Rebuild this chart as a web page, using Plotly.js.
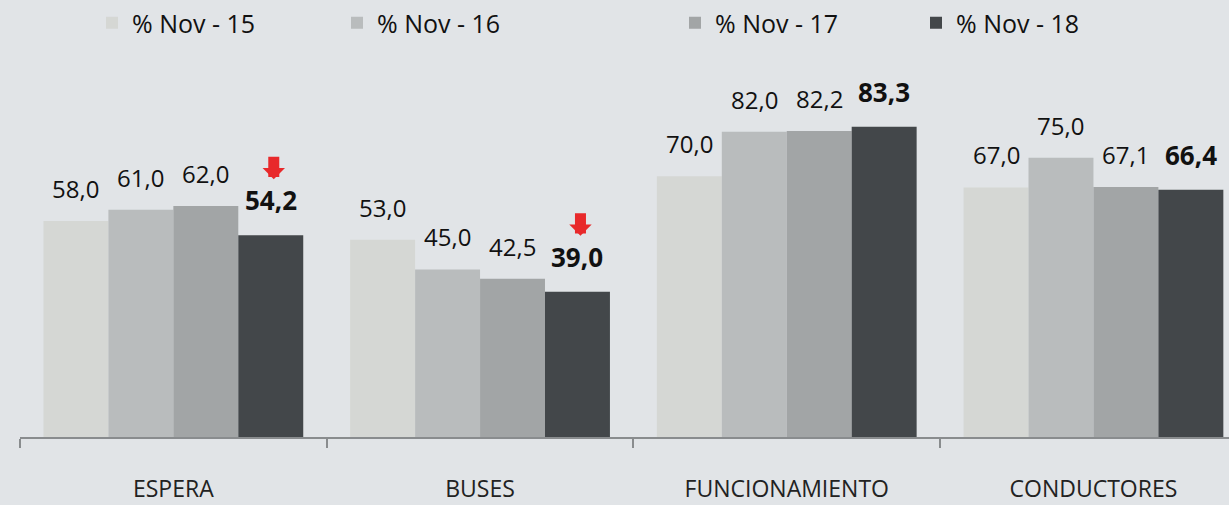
<!DOCTYPE html>
<html>
<head>
<meta charset="utf-8">
<script src="https://cdn.plot.ly/plotly-3.0.1.min.js"></script>
<style>html,body{margin:0;padding:0;background:#e1e4e7;}#chart{width:1229px;height:505px;}</style>
</head>
<body>
<div id="chart"></div>
<script>
const categories = ['ESPERA', 'BUSES', 'FUNCIONAMIENTO', 'CONDUCTORES'];
const seriesNames = ['% Nov - 15', '% Nov - 16', '% Nov - 17', '% Nov - 18'];
const nov15 = [58.0, 53.0, 70.0, 67.0];
const nov16 = [61.0, 45.0, 82.0, 75.0];
const nov17 = [62.0, 42.5, 82.2, 67.1];
const nov18 = [54.2, 39.0, 83.3, 66.4];
const decreased = ['ESPERA', 'BUSES'];

const series = [nov15, nov16, nov17, nov18];
const colors = ['#d5d7d4', '#b9bcbd', '#a2a5a6', '#43474a'];
const legendX = [92, 337, 675, 916];
const W = 1229, H = 505;
const bargap = 0.153;
const barW = (1 - bargap) / 4;
const fmt = v => v.toFixed(1).replace('.', ',');

const traces = series.map((vals, k) => ({
  type: 'bar',
  x: categories,
  y: vals,
  name: seriesNames[k],
  marker: {color: colors[k]},
  legend: k === 0 ? 'legend' : 'legend' + (k + 1),
  hoverinfo: 'skip'
}));

const annotations = [];
series.forEach((vals, k) => {
  vals.forEach((v, i) => {
    const last = k === 3;
    annotations.push({
      x: i + (k - 1.5) * barW,
      y: v,
      xref: 'x', yref: 'y',
      text: last ? '<b>' + fmt(v) + '</b>' : fmt(v),
      showarrow: false,
      yanchor: 'bottom',
      yshift: last ? 15 : 14,
      font: {family: 'Open Sans, sans-serif', size: last ? 26 : 24, color: '#111'}
    });
  });
});
decreased.forEach(c => {
  const i = categories.indexOf(c);
  annotations.push({
    x: i + 1.5 * barW,
    y: nov18[i],
    xref: 'x', yref: 'y',
    text: '',
    showarrow: true,
    arrowhead: 1,
    arrowwidth: 11,
    arrowsize: 0.34,
    arrowcolor: '#e8292b',
    ax: 0, ay: -24,
    standoff: 0, startstandoff: 0,
    xshift: 3,
    yshift: 56
  });
});

const layout = {
  width: W, height: H,
  paper_bgcolor: '#e1e4e7',
  plot_bgcolor: '#e1e4e7',
  margin: {l: 20, r: 0, t: 60, b: 68, autoexpand: false},
  barmode: 'group',
  bargap: bargap,
  bargroupgap: 0,
  showlegend: true,
  xaxis: {
    type: 'category',
    range: [-0.5, -0.5 + 1209 / 306.7],
    showline: true, linecolor: '#898c8e', linewidth: 2,
    ticks: 'outside', tickson: 'boundaries', ticklen: 9, tickwidth: 2, tickcolor: '#898c8e',
    ticklabelstandoff: 30,
    tickfont: {family: 'Open Sans, sans-serif', size: 23, color: '#222'},
    showgrid: false, zeroline: false, fixedrange: true
  },
  yaxis: {visible: false, range: [0, 377 / 3.724], fixedrange: true},
  annotations: annotations
};
seriesNames.forEach((n, k) => {
  const key = k === 0 ? 'legend' : 'legend' + (k + 1);
  layout[key] = {
    xref: 'container', yref: 'container',
    x: legendX[k] / W, xanchor: 'left',
    y: 1 - 23 / H, yanchor: 'middle',
    orientation: 'h',
    bgcolor: 'rgba(0,0,0,0)',
    font: {family: 'Open Sans, sans-serif', size: 25, color: '#111'}
  };
});

Plotly.newPlot('chart', traces, layout, {staticPlot: true});
</script>
</body>
</html>
